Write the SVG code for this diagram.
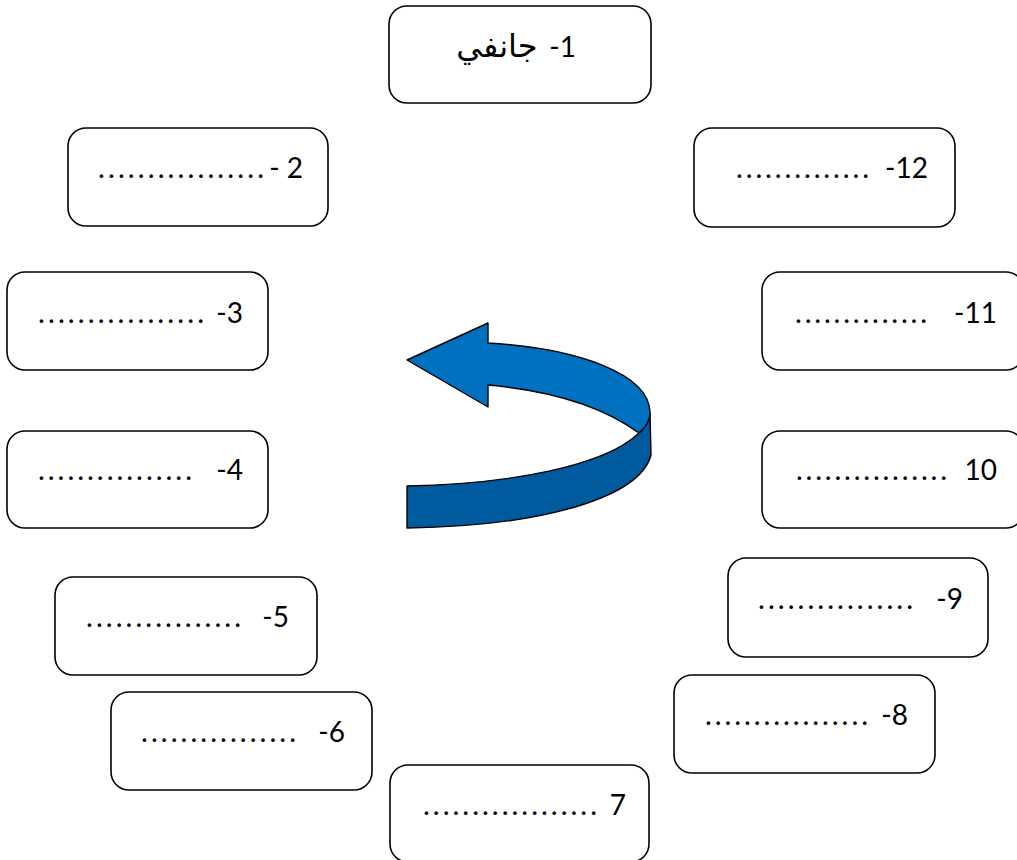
<svg xmlns="http://www.w3.org/2000/svg" width="1017" height="860" viewBox="0 0 1017 860">
<style>
.box{fill:#fff;stroke:#000;stroke-width:1.6}
.t{font-family:Lato,"Open Sans","DejaVu Sans",sans-serif;font-size:28px;fill:#000}
.dots{font-family:Lato,"Open Sans",sans-serif;font-size:29px;fill:#000}
.ar{font-family:"DejaVu Sans","Noto Sans",sans-serif;font-size:32px;fill:#000}
.edge{stroke:#000;stroke-width:1.4;stroke-linejoin:round}
</style>
<rect width="1017" height="860" fill="#fff"/>
<g id="connectors">
<path class="edge" fill="#005A9E" d="M407,486 C510,484 605,466 639,433 C646,426 650,420 650,413 L651,455 C640,497 545,526 407,528 Z"/>
<path class="edge" fill="#0070C0" d="M407,360 L488,323 L488,343 C575,348 650,373 650,413 C650,420 646,427 639,433 C605,408 555,391 488,385 L488,407 Z"/>
</g>
<g id="node1"><rect class="box" x="389" y="6" width="262" height="97" rx="18"/>
<text class="ar" x="497" y="57" text-anchor="middle">جانفي</text>
<text class="t" x="576" y="57" text-anchor="end">-1</text></g>
<g id="node2"><rect class="box" x="68" y="128" width="260" height="98" rx="18"/>
<text class="dots" x="98" y="178" textLength="166" lengthAdjust="spacing">.................</text>
<text class="t" x="303" y="178" text-anchor="end">- 2</text></g>
<g id="node3"><rect class="box" x="7" y="272" width="261" height="98" rx="18"/>
<text class="dots" x="38" y="323" textLength="166" lengthAdjust="spacing">.................</text>
<text class="t" x="243" y="323" text-anchor="end">-3</text></g>
<g id="node4"><rect class="box" x="7" y="431" width="261" height="97" rx="18"/>
<text class="dots" x="38" y="480" textLength="154" lengthAdjust="spacing">................</text>
<text class="t" x="243" y="480" text-anchor="end">-4</text></g>
<g id="node5"><rect class="box" x="55" y="577" width="262" height="98" rx="18"/>
<text class="dots" x="86" y="627" textLength="155" lengthAdjust="spacing">................</text>
<text class="t" x="289" y="627" text-anchor="end">-5</text></g>
<g id="node6"><rect class="box" x="111" y="692" width="261" height="98" rx="18"/>
<text class="dots" x="141" y="742" textLength="155" lengthAdjust="spacing">................</text>
<text class="t" x="345" y="742" text-anchor="end">-6</text></g>
<g id="node7"><rect class="box" x="390" y="765" width="259" height="97" rx="18"/>
<text class="dots" x="423" y="815" textLength="174" lengthAdjust="spacing">..................</text>
<text class="t" x="626" y="815" text-anchor="end">7</text></g>
<g id="node8"><rect class="box" x="674" y="675" width="261" height="98" rx="18"/>
<text class="dots" x="705" y="725" textLength="163" lengthAdjust="spacing">.................</text>
<text class="t" x="908" y="725" text-anchor="end">-8</text></g>
<g id="node9"><rect class="box" x="728" y="558" width="260" height="99" rx="18"/>
<text class="dots" x="758" y="609" textLength="155" lengthAdjust="spacing">................</text>
<text class="t" x="963" y="609" text-anchor="end">-9</text></g>
<g id="node10"><rect class="box" x="762" y="431" width="262" height="97" rx="18"/>
<text class="dots" x="796" y="480" textLength="151" lengthAdjust="spacing">................</text>
<text class="t" x="997" y="480" text-anchor="end">10</text></g>
<g id="node11"><rect class="box" x="762" y="272" width="262" height="98" rx="18"/>
<text class="dots" x="795" y="323" textLength="132" lengthAdjust="spacing">..............</text>
<text class="t" x="997" y="323" text-anchor="end">-11</text></g>
<g id="node12"><rect class="box" x="694" y="128" width="261" height="99" rx="18"/>
<text class="dots" x="736" y="178" textLength="133" lengthAdjust="spacing">..............</text>
<text class="t" x="928" y="178" text-anchor="end">-12</text></g>
</svg>
